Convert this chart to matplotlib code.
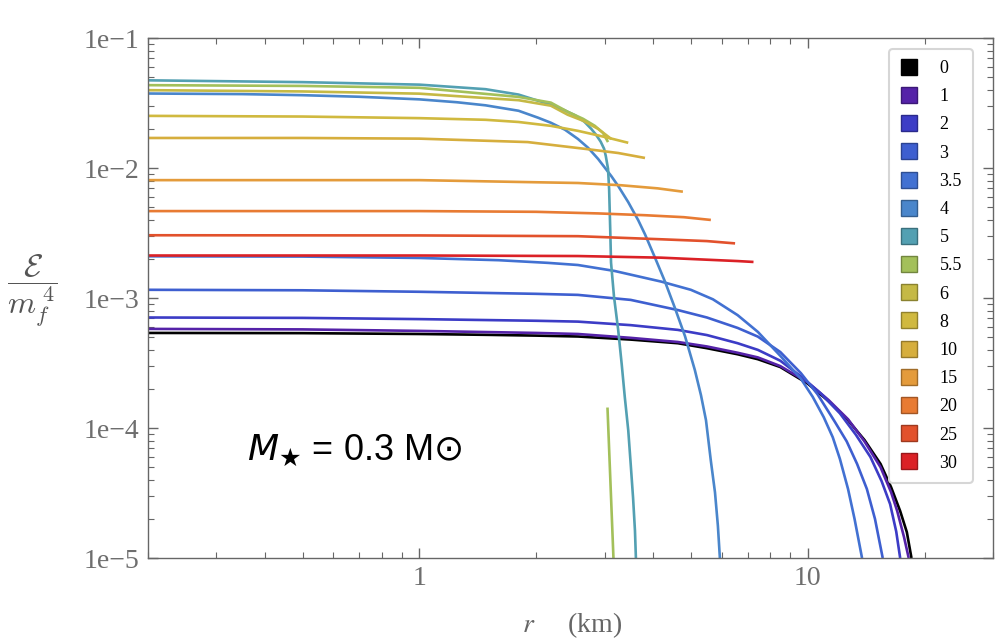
import matplotlib
matplotlib.use("Agg")
from matplotlib import pyplot as plt
from matplotlib.lines import Line2D
from matplotlib.ticker import NullFormatter
import matplotlib.colors as mcolors

# coupling values (legend) and colours
labels = ["0", "1", "2", "3", "3.5", "4", "5", "5.5", "6", "8", "10", "15", "20", "25", "30"]
colors = ["#000000", "#5522a8", "#3c3cc6", "#3e5fd0", "#4271d2", "#4a86cb", "#53a0b2",
          "#a3c05a", "#c5b945", "#d0b93f", "#d6ae3d", "#e49b3b", "#e87b33", "#e2512c", "#db2126"]

# energy density profiles: r (km), eps / m_f^4
r_0 = [0.2, 0.5, 1.0, 1.5, 2.0, 2.56, 3.5, 4.63, 5.5, 6.6, 7.44, 8.5, 10.0, 11.3, 12.7, 14.0, 15.4, 16.4, 17.3, 18.0, 18.5]
eps_0 = [5.4e-4, 5.38e-4, 5.3e-4, 5.22e-4, 5.15e-4, 5.07e-4, 4.8e-4, 4.5e-4, 4.12e-4, 3.7e-4, 3.39e-4, 2.95e-4,
         2.2e-4, 1.62e-4, 1.15e-4, 8.1e-5, 5.3e-5, 3.5e-5, 2.3e-5, 1.58e-5, 1.0e-5]
r_1 = [0.2, 0.5, 1.0, 2.0, 2.56, 3.5, 4.63, 5.5, 6.6, 7.44, 8.5, 10.0, 11.3, 12.7, 14.0, 15.4, 16.4, 17.0, 17.7, 18.2]
eps_1 = [5.8e-4, 5.75e-4, 5.6e-4, 5.4e-4, 5.3e-4, 4.95e-4, 4.6e-4, 4.25e-4, 3.8e-4, 3.5e-4, 3.0e-4, 2.25e-4,
         1.65e-4, 1.17e-4, 7.9e-5, 5.0e-5, 3.2e-5, 2.3e-5, 1.45e-5, 1.0e-5]
r_2 = [0.2, 0.5, 1.0, 2.0, 2.56, 3.5, 4.63, 5.5, 6.6, 7.44, 8.5, 9.6, 10.8, 12.1, 13.3, 14.5, 15.5, 16.3, 16.9, 17.3]
eps_2 = [7.1e-4, 7.05e-4, 6.9e-4, 6.7e-4, 6.6e-4, 6.2e-4, 5.7e-4, 5.2e-4, 4.5e-4, 4.0e-4, 3.3e-4, 2.5e-4,
         1.85e-4, 1.3e-4, 8.9e-5, 6.0e-5, 3.9e-5, 2.6e-5, 1.6e-5, 1.0e-5]
r_3 = [0.2, 0.5, 1.0, 2.0, 2.56, 3.5, 4.63, 5.5, 6.6, 7.44, 8.5, 9.6, 10.6, 11.74, 12.6, 13.4, 14.2, 14.9, 15.6]
eps_3 = [1.16e-3, 1.15e-3, 1.12e-3, 1.08e-3, 1.06e-3, 9.7e-4, 8.1e-4, 7.1e-4, 5.9e-4, 5.06e-4, 3.85e-4, 2.65e-4,
         1.82e-4, 1.12e-4, 7.9e-5, 5.3e-5, 3.4e-5, 2.0e-5, 1.0e-5]
r_35 = [0.2, 0.5, 1.0, 1.6, 2.14, 2.56, 3.18, 4.2, 5.0, 5.7, 6.6, 7.44, 8.5, 9.6, 10.3, 11.0, 11.6, 12.1, 12.7, 13.2, 13.8]
eps_35 = [2.1e-3, 2.09e-3, 2.04e-3, 1.96e-3, 1.87e-3, 1.8e-3, 1.62e-3, 1.34e-3, 1.16e-3, 9.8e-4, 7.4e-4, 5.5e-4,
          3.6e-4, 2.4e-4, 1.74e-4, 1.21e-4, 8.5e-5, 5.8e-5, 3.4e-5, 2.0e-5, 1.0e-5]
r_4 = [0.2, 0.35, 0.5, 0.7, 1.0, 1.25, 1.48, 1.8, 2.02, 2.18, 2.37, 2.56, 2.72, 2.885, 3.12, 3.25, 3.45, 3.66,
       3.81, 4.04, 4.29, 4.55, 4.83, 5.12, 5.31, 5.47, 5.63, 5.77, 5.87, 5.94]
eps_4 = [0.0376, 0.0372, 0.0365, 0.0355, 0.0339, 0.0322, 0.0305, 0.0277, 0.0245, 0.0224, 0.0198, 0.0168, 0.01435,
         0.0118, 0.0087, 0.0073, 0.00548, 0.00398, 0.0031, 0.00206, 0.00134, 8.4e-4, 5.1e-4, 2.8e-4, 1.79e-4,
         1.15e-4, 5.6e-5, 3.2e-5, 1.77e-5, 1.0e-5]
r_5 = [0.2, 0.5, 1.0, 1.48, 1.8, 2.02, 2.18, 2.36, 2.52, 2.66, 2.77, 2.85, 2.93, 2.99, 3.02, 3.06, 3.08, 3.10,
       3.115, 3.17, 3.25, 3.32, 3.38, 3.45, 3.50, 3.55, 3.59, 3.61]
eps_5 = [0.0475, 0.046, 0.044, 0.0406, 0.0369, 0.0331, 0.0309, 0.028, 0.0255, 0.0228, 0.0201, 0.0181, 0.016,
         0.0141, 0.0124, 0.0099, 0.0069, 0.0034, 0.00188, 1.03e-3, 5.7e-4, 3.06e-4, 1.73e-4, 9.6e-5, 5.3e-5,
         2.9e-5, 1.62e-5, 1.0e-5]
r_55 = [0.2, 0.5, 1.0, 1.8, 2.18, 2.41, 2.64, 2.83, 2.97, 3.06]
eps_55 = [0.0436, 0.043, 0.0416, 0.0354, 0.032, 0.0272, 0.024, 0.0212, 0.0187, 0.0159]
r_55_tail = [3.05, 3.16]
eps_55_tail = [1.44e-4, 1.0e-5]
r_6 = [0.2, 0.5, 1.0, 1.8, 2.18, 2.41, 2.64, 2.885, 3.02, 3.12]
eps_6 = [0.0399, 0.039, 0.0375, 0.0334, 0.0303, 0.0258, 0.0232, 0.0201, 0.0181, 0.0168]
r_8 = [0.2, 0.5, 1.0, 1.48, 1.8, 2.18, 2.56, 2.885, 3.15, 3.45]
eps_8 = [0.0253, 0.025, 0.0243, 0.0236, 0.0227, 0.0212, 0.0194, 0.0179, 0.0168, 0.0157]
r_10 = [0.2, 0.5, 1.0, 1.9, 2.67, 3.25, 3.81]
eps_10 = [0.0171, 0.0171, 0.0169, 0.0159, 0.0141, 0.0131, 0.012]
r_15 = [0.2, 0.5, 1.0, 2.0, 2.56, 3.3, 4.11, 4.77]
eps_15 = [0.0081, 0.0081, 0.0081, 0.0078, 0.0077, 0.0074, 0.0070, 0.0066]
r_20 = [0.2, 1.0, 2.0, 2.89, 3.81, 4.8, 5.63]
eps_20 = [0.00468, 0.00468, 0.00462, 0.00449, 0.00435, 0.0042, 0.0040]
r_25 = [0.2, 1.0, 2.56, 4.19, 5.5, 6.5]
eps_25 = [0.00305, 0.00304, 0.0030, 0.00284, 0.00275, 0.00264]
r_30 = [0.2, 1.0, 2.56, 4.19, 6.6, 7.25]
eps_30 = [0.00213, 0.00213, 0.00211, 0.00205, 0.00193, 0.0019]

y_ticks = [1e-5, 1e-4, 1e-3, 1e-2, 1e-1]
y_ticklabels = ["1e\u22125", "1e\u22124", "1e\u22123", "1e\u22122", "1e\u22121"]
x_ticks = [1, 10]
x_ticklabels = ["1", "10"]

curves = [(r_0, eps_0), (r_1, eps_1), (r_2, eps_2), (r_3, eps_3), (r_35, eps_35),
          (r_4, eps_4), (r_5, eps_5), (r_55, eps_55), (r_6, eps_6), (r_8, eps_8),
          (r_10, eps_10), (r_15, eps_15), (r_20, eps_20), (r_25, eps_25), (r_30, eps_30)]

fig = plt.figure(figsize=(10, 6.44), dpi=100)
ax = fig.add_axes([0.148, 0.1335, 0.845, 0.807])

for (r, eps), lab, c in zip(curves, labels, colors):
    ax.plot(r, eps, color=c, lw=1.9, solid_capstyle="butt", solid_joinstyle="round")
    if lab == "5.5":
        ax.plot(r_55_tail, eps_55_tail, color=c, lw=1.9, solid_capstyle="butt")

ax.set_xscale("log")
ax.set_yscale("log")
ax.set_xlim(0.2, 30)
ax.set_ylim(1e-5, 1e-1)

ax.set_yticks(y_ticks)
ax.set_yticklabels(y_ticklabels)
ax.set_xticks(x_ticks)
ax.set_xticklabels(x_ticklabels)
ax.xaxis.set_minor_formatter(NullFormatter())
ax.yaxis.set_minor_formatter(NullFormatter())

ax.tick_params(which="both", direction="in", top=True, right=True, color="#666666",
               labelcolor="#6e6e6e", labelsize=20, pad=6)
ax.tick_params(which="major", length=7, width=1)
ax.tick_params(which="minor", length=4.5, width=0.8)
for lbl in ax.get_xticklabels() + ax.get_yticklabels():
    lbl.set_fontfamily("Liberation Serif")
for s in ax.spines.values():
    s.set_color("#666666")
    s.set_linewidth(1)

# axis titles
fig.text(0.032, 0.55, r"$\dfrac{\mathcal{E}}{m_f^{\;4}}$", fontsize=23, color="#555555",
         math_fontfamily="cm", ha="center", va="center")
fig.text(0.572, 0.03, r"$r$     (km)", fontsize=20, color="#666666", family="Liberation Serif",
         math_fontfamily="stix", ha="center", va="center")

ax.text(0.245, 0.208, r"$M_{\bigstar}$ = 0.3 M$\odot$", transform=ax.transAxes, fontsize=26,
        family=["Liberation Sans", "DejaVu Sans"], math_fontfamily="dejavusans",
        ha="center", va="center", color="black")

# legend with square swatches
handles = []
for lab, c in zip(labels, colors):
    edge = [v * 0.7 for v in mcolors.to_rgb(c)]
    handles.append(Line2D([], [], marker="s", linestyle="none", markersize=11,
                          markerfacecolor=c, markeredgecolor=edge, markeredgewidth=1, label=lab))
leg = ax.legend(handles=handles, loc="upper right", bbox_to_anchor=(0.976, 0.979),
                borderaxespad=0, labelspacing=0.62, handlelength=1.0,
                handletextpad=1.2, borderpad=0.6, fancybox=True, framealpha=1,
                prop={"family": "Liberation Serif", "size": 13})
leg.get_frame().set_edgecolor("#d6d6d6")
leg.get_frame().set_linewidth(1.5)

fig.savefig("out.png", dpi=100)
